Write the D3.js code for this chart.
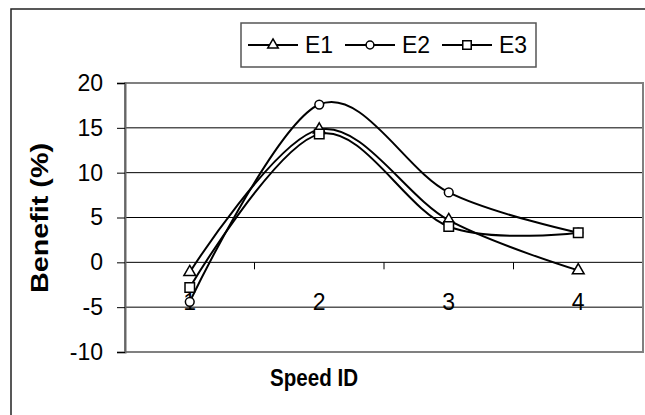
<!DOCTYPE html>
<html><head><meta charset="utf-8">
<script src="https://cdn.jsdelivr.net/npm/d3@7"></script>
<style>body{margin:0;background:#fff}svg{display:block}text{font-family:"Liberation Sans",Arial,sans-serif}</style>
</head><body><svg id="c" width="645" height="415"></svg>
<script>
const categories = ["1", "2", "3", "4"];
const seriesNames = ["E1", "E2", "E3"];
const e1 = [-1.1, 14.8, 4.7, -0.9];
const e2 = [-4.4, 17.6, 7.8, 3.3];
const e3 = [-2.8, 14.3, 4.0, 3.3];
const yTicks = [-10, -5, 0, 5, 10, 15, 20];
const markers = [d3.symbolTriangle, d3.symbolCircle, d3.symbolSquare];
const markerSizes = [60, 60, 90];
const series = [e1, e2, e3];

const svg = d3.select("#c");
const L = 125, R = 643, T = 83, B = 352;
const x = d3.scaleBand().domain(categories).range([L, R]);
const y = d3.scaleLinear().domain([-10, 20]).range([B, T]);

// outer chart border
svg.append("rect").attr("x", 11).attr("y", 9).attr("width", 700).attr("height", 500)
  .attr("fill", "#fff").attr("stroke", "#222").attr("stroke-width", 1.5);

// gridlines
svg.append("g").selectAll("line").data(yTicks.filter(v => v > -10 && v < 20)).join("line")
  .attr("x1", L).attr("x2", R).attr("y1", d => y(d)).attr("y2", d => y(d))
  .attr("stroke", "#000").attr("stroke-width", 1);

// plot border
svg.append("rect").attr("x", L).attr("y", T).attr("width", R - L).attr("height", B - T)
  .attr("fill", "none").attr("stroke", "#808080").attr("stroke-width", 2);

// y axis
const ya = svg.append("g").attr("transform", `translate(${L},0)`)
  .call(d3.axisLeft(y).tickValues(yTicks).tickSize(8).tickPadding(14).tickFormat(d => d < 0 ? "-" + (-d) : d));
ya.select(".domain").attr("stroke", "#666").attr("stroke-width", 2);
ya.selectAll(".tick line").attr("stroke", "#000");
ya.selectAll("text").attr("font-size", 23).attr("fill", "#000").attr("font-family", "Liberation Sans, Arial");

// x axis at y=0
const xa = svg.append("g").attr("transform", `translate(0,${y(0)})`);
xa.selectAll("line").data(categories.slice(1)).join("line")
  .attr("x1", d => x(d)).attr("x2", d => x(d)).attr("y1", 0).attr("y2", 7)
  .attr("stroke", "#000");
xa.selectAll("text").data(categories).join("text")
  .attr("x", d => x(d) + x.bandwidth() / 2).attr("y", 48)
  .attr("text-anchor", "middle").attr("font-size", 23).text(d => d);

// lines
const line = d3.line().x((d, i) => x(categories[i]) + x.bandwidth() / 2).y(d => y(d))
  .curve(d3.curveCardinal.tension(0));
series.forEach(s => {
  svg.append("path").attr("d", line(s)).attr("fill", "none").attr("stroke", "#000").attr("stroke-width", 2);
});
series.forEach((s, k) => {
  svg.append("g").selectAll("path").data(s).join("path")
    .attr("transform", (d, i) => `translate(${x(categories[i]) + x.bandwidth() / 2},${y(d)})`)
    .attr("d", d3.symbol().type(markers[k]).size(markerSizes[k]))
    .attr("fill", "#fff").attr("stroke", "#000").attr("stroke-width", 1.5);
});

// legend
const lg = svg.append("g");
lg.append("rect").attr("x", 241).attr("y", 23).attr("width", 295).attr("height", 44)
  .attr("fill", "#fff").attr("stroke", "#555").attr("stroke-width", 1.5);
seriesNames.forEach((n, k) => {
  const x0 = 248 + k * 97;
  lg.append("line").attr("x1", x0).attr("x2", x0 + 50).attr("y1", 45).attr("y2", 45)
    .attr("stroke", "#000").attr("stroke-width", 2);
  lg.append("path").attr("transform", `translate(${x0 + 25},45)`)
    .attr("d", d3.symbol().type(markers[k]).size(markerSizes[k] * 0.8))
    .attr("fill", "#fff").attr("stroke", "#000").attr("stroke-width", 1.5);
  lg.append("text").attr("x", x0 + 57).attr("y", 53).attr("font-size", 23).text(n);
});

// axis titles
svg.append("text").attr("x", 314).attr("y", 386).attr("text-anchor", "middle")
  .attr("font-size", 23).attr("font-weight", "bold")
  .attr("textLength", 88).attr("lengthAdjust", "spacingAndGlyphs").text("Speed ID");
svg.append("text").attr("transform", "translate(48,218) rotate(-90)").attr("text-anchor", "middle")
  .attr("font-size", 23).attr("font-weight", "bold")
  .attr("textLength", 150).attr("lengthAdjust", "spacingAndGlyphs").text("Benefit (%)");
</script></body></html>
